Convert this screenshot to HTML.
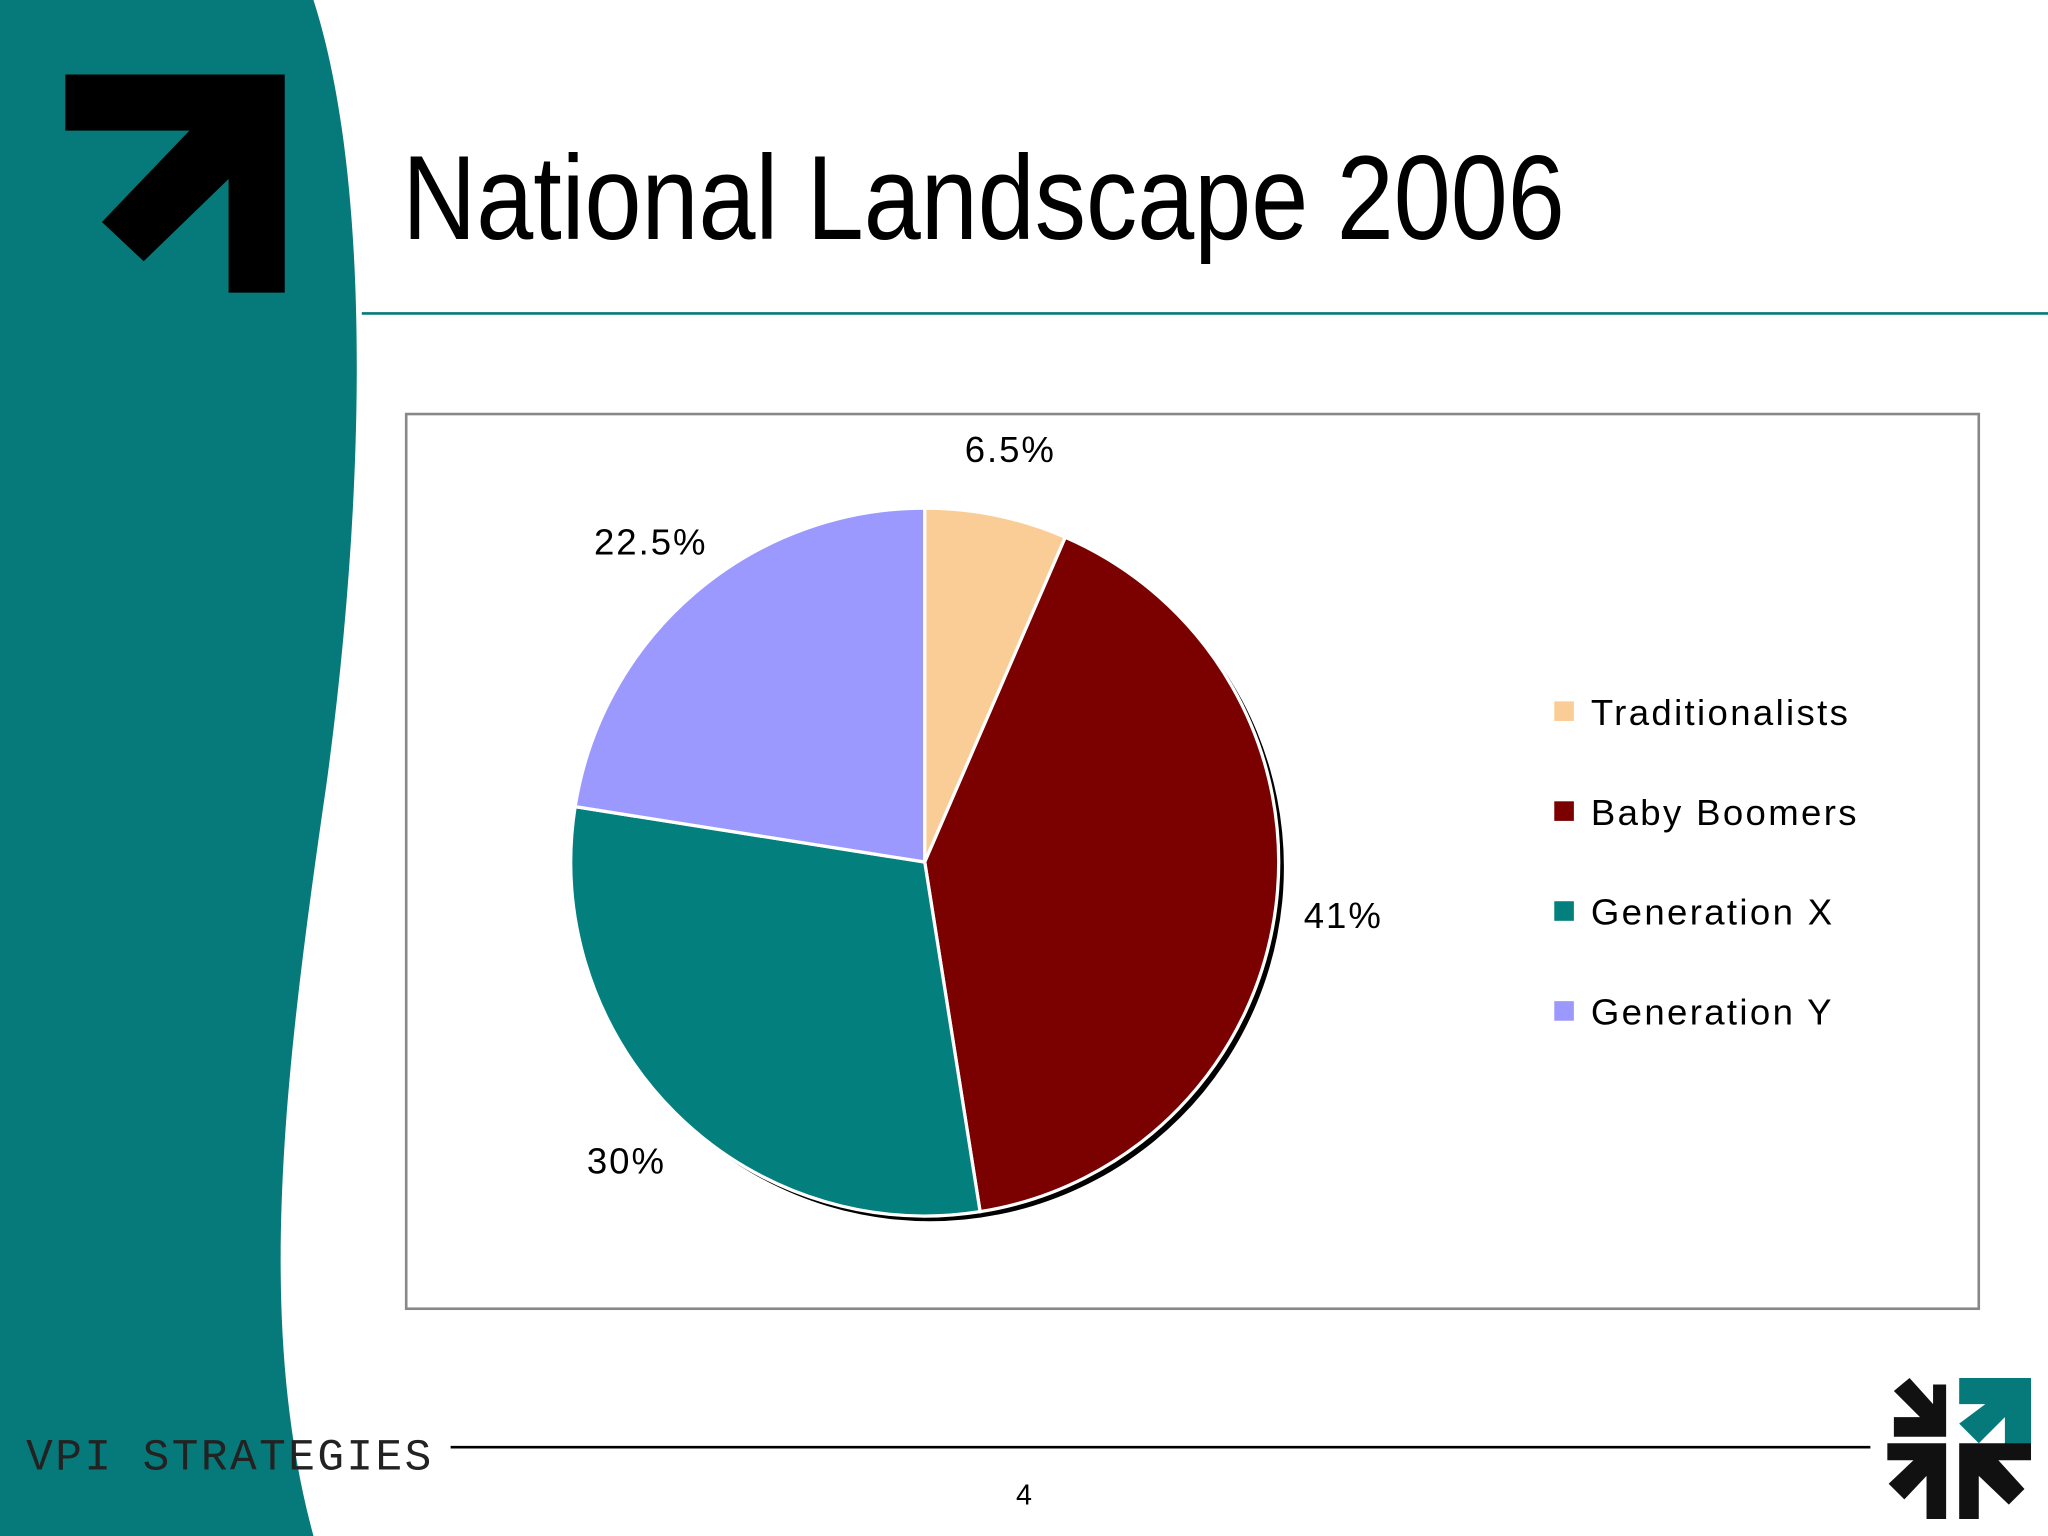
<!DOCTYPE html>
<html><head><meta charset="utf-8"><style>
html,body{margin:0;padding:0;background:#fff;}
svg{display:block;}
text{font-family:"Liberation Sans",sans-serif;}
</style></head><body>
<svg id="slide" width="2048" height="1536" viewBox="0 0 1568 1176" xmlns="http://www.w3.org/2000/svg">
<rect width="1568" height="1176" fill="#fff"/>
<path d="M0 0 L240 0 C285 140 280 380 250 600 C218 820 195 1010 240 1176 L0 1176 Z" fill="#067a7a"/>
<polygon points="50,57 218,57 218,224 175,224 175,137 110,200 78,170 145,100 50,100" fill="#000"/>
<text x="308" y="183" font-size="92" fill="#000" textLength="890" lengthAdjust="spacingAndGlyphs">National Landscape 2006</text>
<line x1="277" y1="240" x2="1568" y2="240" stroke="#067a7a" stroke-width="2"/>
<rect x="311" y="317" width="1204" height="685" fill="#fff" stroke="#888" stroke-width="2"/>
<g id="pie"></g>
<g id="legend"></g>
<text x="20" y="1125" font-size="34" fill="#222" style="font-family:'Liberation Mono',monospace;letter-spacing:1.9px">VPI STRATEGIES</text>
<line x1="345" y1="1108" x2="1432" y2="1108" stroke="#000" stroke-width="2"/>
<text x="784" y="1152" font-size="22" text-anchor="middle" fill="#000">4</text>
<g>
<polygon points="1500,1055 1555,1055 1555,1110 1535,1110 1535,1085 1515,1105 1500,1090 1520,1075 1500,1075" fill="#067a7a"/>
<polygon points="1490,1060 1490,1100 1450,1100 1450,1085 1470,1085 1450,1065 1462,1055 1480,1075 1480,1060" fill="#111"/>
<polygon points="1445,1105 1490,1105 1490,1163 1475,1163 1475,1130 1458,1148 1446,1136 1465,1118 1445,1118" fill="#111"/>
<polygon points="1500,1105 1555,1105 1555,1118 1530,1118 1550,1140 1538,1152 1515,1130 1515,1163 1500,1163" fill="#111"/>
</g>
</svg>
<script>
const categories=["Traditionalists","Baby Boomers","Generation X","Generation Y"];
const values=[6.5,41,30,22.5];
const labels=["6.5%","41%","30%","22.5%"];
const colors=["#fbcd96","#7b0000","#037f7d","#9b99fe"];
const NS="http://www.w3.org/2000/svg";
const cx=708,cy=660,r=271;
const pie=document.getElementById('pie');
const total=values.reduce((a,b)=>a+b,0);
function pt(a,rr){return [cx+rr*Math.sin(a),cy-rr*Math.cos(a)];}
const sh=document.createElementNS(NS,'circle');


sh.setAttribute('cx',cx+4);sh.setAttribute('cy',cy+4);sh.setAttribute('r',r);sh.setAttribute('fill','#000');
pie.appendChild(sh);
let acc=0;
values.forEach((v,i)=>{
  const a0=acc/total*2*Math.PI; acc+=v; const a1=acc/total*2*Math.PI;
  const p0=pt(a0,r),p1=pt(a1,r);
  const large=(a1-a0)>Math.PI?1:0;
  const p=document.createElementNS(NS,'path');
  
  
  p.setAttribute('d',`M${cx},${cy} L${p0[0]},${p0[1]} A${r},${r} 0 ${large} 1 ${p1[0]},${p1[1]} Z`);
  p.setAttribute('fill',colors[i]);p.setAttribute('stroke','#fff');p.setAttribute('stroke-width','2.5');
  pie.appendChild(p);
  const am=(a0+a1)/2; const lp=pt(am,r+52);
  const t=document.createElementNS(NS,'text');
  
  
  t.setAttribute('x',lp[0]);t.setAttribute('y',lp[1]+10);
  t.setAttribute('text-anchor','middle');t.setAttribute('font-size','28');t.setAttribute('fill','#000');
  t.setAttribute('letter-spacing','1.5');
  t.textContent=labels[i];
  pie.appendChild(t);
});
const lg=document.getElementById('legend');
categories.forEach((c,i)=>{
  const y=545+i*76.5;
  const s=document.createElementNS(NS,'rect');
  
  
  s.setAttribute('x',1190);s.setAttribute('y',y-8);s.setAttribute('width',15);s.setAttribute('height',15);s.setAttribute('fill',colors[i]);
  lg.appendChild(s);
  const t=document.createElementNS(NS,'text');
  
  
  t.setAttribute('x',1218);t.setAttribute('y',y+10);t.setAttribute('font-size','28');t.setAttribute('fill','#000');
  t.setAttribute('letter-spacing','1.8');
  t.textContent=c;
  lg.appendChild(t);
});
</script>
</body></html>
